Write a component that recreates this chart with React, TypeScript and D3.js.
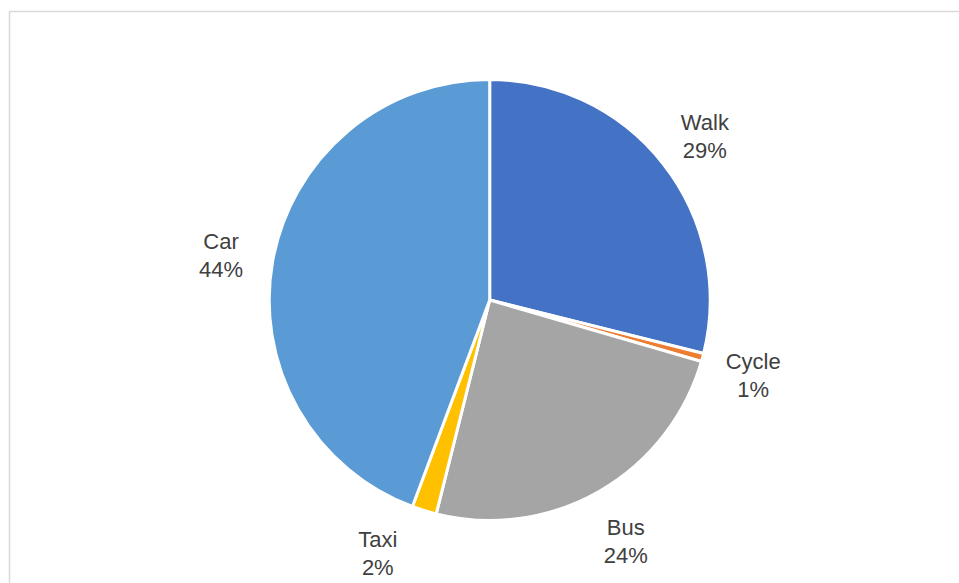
import React from "react";
import * as d3 from "d3";

const categories = ["Walk", "Cycle", "Bus", "Taxi", "Car"];
const values = [28.9, 0.6, 24.4, 1.8, 44.3];
const percentLabels = ["29%", "1%", "24%", "2%", "44%"];
const colors = ["#4472C4", "#ED7D31", "#A5A5A5", "#FFC000", "#5B9BD5"];

const W = 959;
const H = 583;

export default function App() {
  const cx = 489.7;
  const cy = 300;
  const r = 220.5;
  const labelR = 273;
  const lineGap = 28;
  const firstDy = -2;
  const bottomLimit = 575; // last baseline must stay above this (page px)

  const pie = d3.pie<number>().sort(null).value((d) => d);
  const arcs = pie(values);
  const arc = d3.arc<d3.PieArcDatum<number>>().innerRadius(0).outerRadius(r);
  const labelArc = d3
    .arc<d3.PieArcDatum<number>>()
    .innerRadius(labelR)
    .outerRadius(labelR);

  const labelPos = (a: d3.PieArcDatum<number>): [number, number] => {
    let [x, y] = labelArc.centroid(a);
    const maxY = bottomLimit - cy - (firstDy + lineGap);
    if (y > maxY) {
      y = maxY;
      const side = x < 0 ? -1 : 1;
      x = side * Math.sqrt(Math.max(0, labelR * labelR - y * y));
    }
    return [x, y];
  };

  return (
    <svg
      width={W}
      height={H}
      style={{ position: "absolute", left: 0, top: 0, display: "block" }}
    >
      <rect x={0} y={0} width={W} height={H} fill="#ffffff" />
      <rect
        x={9.5}
        y={11.5}
        width={1200}
        height={800}
        fill="none"
        stroke="#d9d9d9"
        strokeWidth={1.5}
      />
      <g transform={`translate(${cx},${cy})`}>
        {arcs.map((a, i) => (
          <path
            key={categories[i]}
            d={arc(a) || ""}
            fill={colors[i]}
            stroke="#ffffff"
            strokeWidth={3}
            strokeLinejoin="round"
          />
        ))}
        {arcs.map((a, i) => {
          const [x, y] = labelPos(a);
          return (
            <text
              key={"l" + categories[i]}
              x={x}
              y={y}
              textAnchor="middle"
              fontFamily="'Liberation Sans', Arial, sans-serif"
              fontSize={22}
              fill="#404040"
            >
              <tspan x={x} dy={firstDy}>
                {categories[i]}
              </tspan>
              <tspan x={x} dy={lineGap}>
                {percentLabels[i]}
              </tspan>
            </text>
          );
        })}
      </g>
    </svg>
  );
}
